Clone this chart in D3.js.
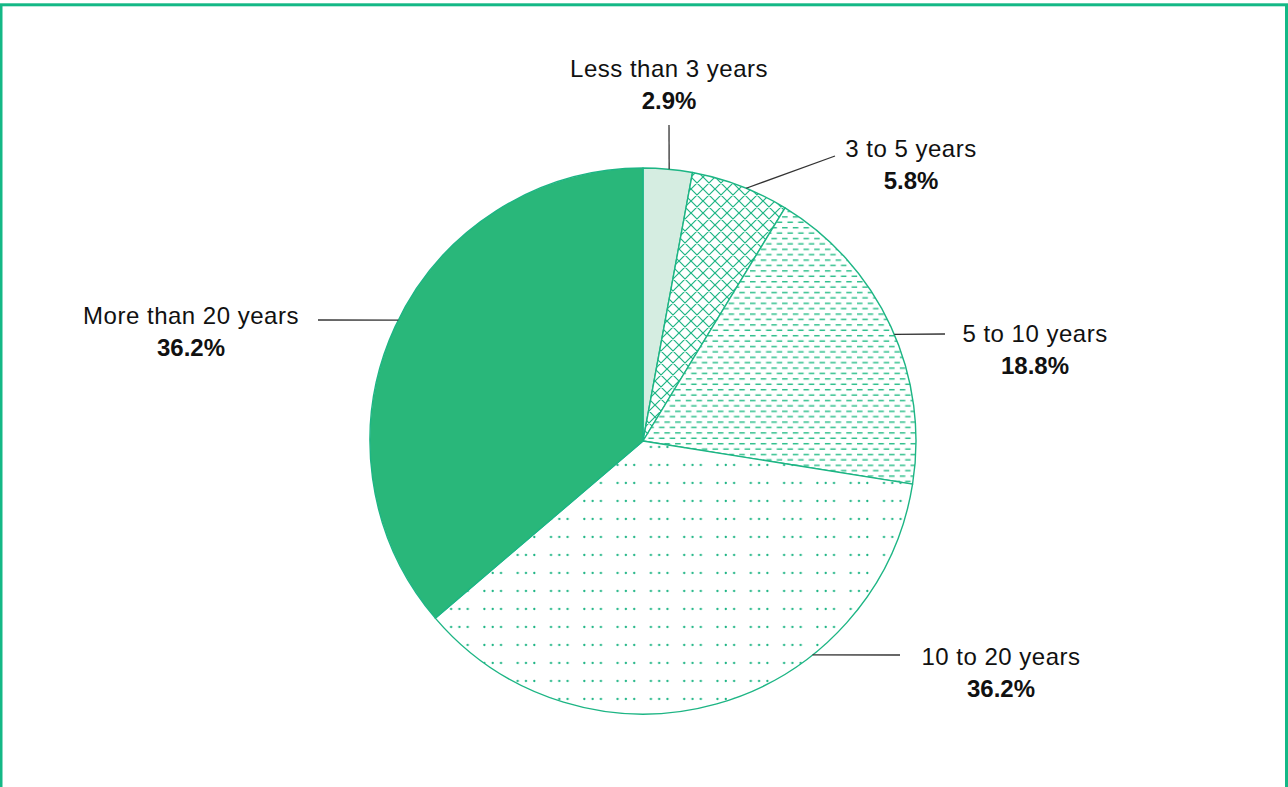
<!DOCTYPE html>
<html>
<head>
<meta charset="utf-8">
<script src="https://cdn.jsdelivr.net/npm/d3@7/dist/d3.min.js"></script>
<style>
  html, body { margin: 0; padding: 0; background: #fff; }
  svg { display: block; }
  text { font-family: "Liberation Sans", Arial, Helvetica, sans-serif; fill: #111; }
</style>
</head>
<body>
<svg id="chart" width="1288" height="787"></svg>
<script>
// Years of experience — share of respondents
const categories = ["Less than 3 years", "3 to 5 years", "5 to 10 years", "10 to 20 years", "More than 20 years"];
const shares = [2.9, 5.8, 18.8, 36.2, 36.2];
const shareLabels = ["2.9%", "5.8%", "18.8%", "36.2%", "36.2%"];

// Fill style per slice
const fills = ["#d5ede1", "url(#cross)", "url(#dash)", "url(#dots)", "#29b77a"];

// Callout placement: leader angle on the rim (deg, clockwise from top),
// leader end and text anchor, relative to the pie centre
const callouts = [
  { angle: 5.5,   end: [26, -316],  text: [26, -364] },
  { angle: 22.2,  end: [192, -285], text: [268, -284] },
  { angle: 67,    end: [302, -107], text: [392, -99] },
  { angle: 141.6, end: [257, 214],  text: [358, 224] },
  { angle: 296.3, end: [-325, -121], text: [-452, -117] }
];

const W = 1288, H = 787;
const cx = 643, cy = 441, R = 273;
const green = "#1db584";

const svg = d3.select("#chart");
const defs = svg.append("defs");

// Cross-hatch pattern
const P = 12;
const cross = defs.append("pattern").attr("id", "cross")
  .attr("patternUnits", "userSpaceOnUse").attr("width", P).attr("height", P);
cross.append("rect").attr("width", P).attr("height", P).attr("fill", "#fff");
cross.append("path")
  .attr("d", `M-2,-2L${P + 2},${P + 2}M-2,${P + 2}L${P + 2},-2` +
             `M${-P / 2 - 2},${P / 2 - 2}L${P / 2 + 2},${1.5 * P + 2}` +
             `M${P / 2 - 2},${-P / 2 - 2}L${1.5 * P + 2},${P / 2 + 2}` +
             `M${-P / 2 - 2},${P / 2 + 2}L${P / 2 + 2},${-P / 2 - 2}` +
             `M${P / 2 - 2},${1.5 * P + 2}L${1.5 * P + 2},${P / 2 - 2}`)
  .attr("stroke", green).attr("stroke-width", 1.2).attr("fill", "none");

// Horizontal dash pattern, staggered rows
const dash = defs.append("pattern").attr("id", "dash")
  .attr("patternUnits", "userSpaceOnUse").attr("width", 10.7).attr("height", 10.8);
dash.append("rect").attr("width", 10.7).attr("height", 10.8).attr("fill", "#fff");
dash.append("path").attr("d", "M0,2.7H5.5M5.35,8.1H10.85M-5.35,8.1H0.15")
  .attr("stroke", "#2fbf8c").attr("stroke-width", 1.3).attr("fill", "none");

// Dot pattern, dots in groups of three
const dots = defs.append("pattern").attr("id", "dots")
  .attr("patternUnits", "userSpaceOnUse").attr("x", 605).attr("y", 447)
  .attr("width", 33.3).attr("height", 18);
dots.append("rect").attr("width", 33.3).attr("height", 18).attr("fill", "#fff");
[2.3, 10.6, 18.9].forEach(x =>
  dots.append("circle").attr("cx", x).attr("cy", 9).attr("r", 1.15).attr("fill", "#1db584"));

// Frame
svg.append("rect").attr("x", 1).attr("y", 4.8).attr("width", W - 2.5).attr("height", H + 20)
  .attr("fill", "none").attr("stroke", "#14b886").attr("stroke-width", 3);

const pie = d3.pie().sort(null).value(d => d)(shares);
const arc = d3.arc().innerRadius(0).outerRadius(R);

const g = svg.append("g").attr("transform", `translate(${cx},${cy})`);

g.selectAll("path.slice").data(pie).join("path")
  .attr("class", "slice")
  .attr("d", arc)
  .attr("fill", (d, i) => fills[i])
  .attr("stroke", green)
  .attr("stroke-width", 1.4)
  .attr("stroke-linejoin", "round");

// Callouts
const rad = a => a * Math.PI / 180;
const labels = g.selectAll("g.callout").data(pie).join("g").attr("class", "callout");

labels.append("line")
  .attr("x1", (d, i) => R * Math.sin(rad(callouts[i].angle)))
  .attr("y1", (d, i) => -R * Math.cos(rad(callouts[i].angle)))
  .attr("x2", (d, i) => callouts[i].end[0])
  .attr("y2", (d, i) => callouts[i].end[1])
  .attr("stroke", "#333").attr("stroke-width", 1.3);

labels.append("text")
  .attr("x", (d, i) => callouts[i].text[0])
  .attr("y", (d, i) => callouts[i].text[1])
  .attr("text-anchor", "middle")
  .attr("font-size", 24)
  .attr("letter-spacing", 0.5)
  .text((d, i) => categories[i]);

labels.append("text")
  .attr("x", (d, i) => callouts[i].text[0])
  .attr("y", (d, i) => callouts[i].text[1] + 32)
  .attr("text-anchor", "middle")
  .attr("font-size", 24)
  .attr("font-weight", "bold")
  .text((d, i) => shareLabels[i]);
</script>
</body>
</html>
